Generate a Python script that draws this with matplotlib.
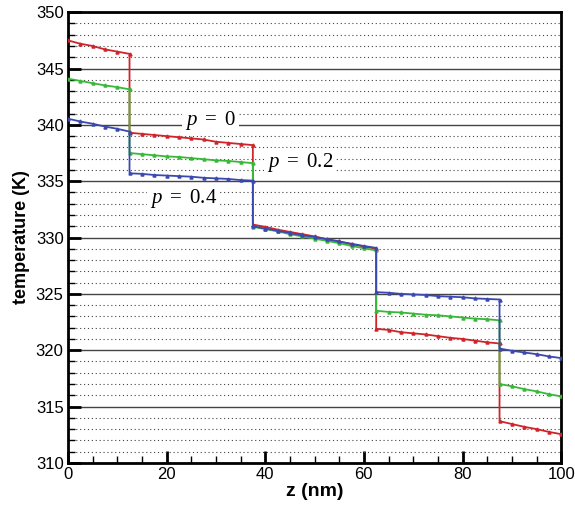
import matplotlib
matplotlib.use("Agg")
import matplotlib.pyplot as plt
from matplotlib.ticker import MultipleLocator

plt.rcParams['font.family'] = 'Liberation Sans'
plt.rcParams['mathtext.fontset'] = 'custom'
plt.rcParams['mathtext.rm'] = 'Liberation Serif'
plt.rcParams['mathtext.it'] = 'Liberation Serif:italic'

# z positions (nm) for each layer; boundaries repeated to get the jumps
z_seg1 = [0, 2.5, 5, 7.5, 10, 12.5]
z_seg2 = [12.5, 15, 17.5, 20, 22.5, 25, 27.5, 30, 32.5, 35, 37.5]
z_seg3 = [37.5, 40, 42.5, 45, 47.5, 50, 52.5, 55, 57.5, 60, 62.5]
z_seg4 = [62.5, 65, 67.5, 70, 72.5, 75, 77.5, 80, 82.5, 85, 87.5]
z_seg5 = [87.5, 90, 92.5, 95, 97.5, 100]
z = z_seg1 + z_seg2 + z_seg3 + z_seg4 + z_seg5

# temperature (K), p = 0
t_p0 = [347.5, 347.2, 347.0, 346.7, 346.5, 346.3,
        339.3, 339.2, 339.1, 339.0, 338.9, 338.8, 338.7, 338.5, 338.4, 338.3, 338.2,
        331.15, 330.95, 330.7, 330.5, 330.3, 330.1, 329.85, 329.65, 329.4, 329.2, 329.0,
        321.9, 321.8, 321.6, 321.5, 321.4, 321.25, 321.1, 321.0, 320.85, 320.7, 320.6,
        313.7, 313.45, 313.2, 313.0, 312.75, 312.55]

# temperature (K), p = 0.2
t_p02 = [344.1, 343.9, 343.7, 343.5, 343.35, 343.15,
         337.5, 337.4, 337.3, 337.2, 337.15, 337.05, 336.95, 336.85, 336.8, 336.7, 336.6,
         330.95, 330.75, 330.55, 330.3, 330.1, 329.9, 329.7, 329.5, 329.25, 329.05, 328.85,
         323.5, 323.4, 323.35, 323.25, 323.15, 323.1, 323.0, 322.9, 322.8, 322.75, 322.65,
         317.0, 316.8, 316.55, 316.35, 316.1, 315.9]

# temperature (K), p = 0.4
t_p04 = [340.55, 340.3, 340.1, 339.85, 339.65, 339.4,
         335.7, 335.65, 335.55, 335.5, 335.45, 335.4, 335.3, 335.25, 335.2, 335.1, 335.05,
         331.0, 330.8, 330.6, 330.4, 330.2, 330.05, 329.85, 329.65, 329.45, 329.25, 329.08,
         325.15, 325.1, 325.0, 324.95, 324.9, 324.8, 324.75, 324.7, 324.6, 324.55, 324.5,
         320.15, 319.95, 319.8, 319.65, 319.45, 319.3]

fig = plt.figure(figsize=(5.75, 5.07), dpi=100)
ax = fig.add_axes([0.118, 0.087, 0.858, 0.889])

ax.plot(z, t_p0, color='#d0232a', lw=1.3, marker='^', ms=2.2, zorder=3)
ax.plot(z, t_p02, color='#38b838', lw=1.3, marker='^', ms=2.2, zorder=4)
ax.plot(z, t_p04, color='#3a48b0', lw=1.3, marker='^', ms=2.2, zorder=5)

ax.set_xlim(0, 100)
ax.set_ylim(310, 350)
ax.xaxis.set_major_locator(MultipleLocator(20))
ax.xaxis.set_minor_locator(MultipleLocator(5))
ax.yaxis.set_major_locator(MultipleLocator(5))
ax.yaxis.set_minor_locator(MultipleLocator(1))

ax.tick_params(which='both', direction='in', top=False, right=False)
ax.tick_params(which='major', length=9, width=2, labelsize=12, pad=3)
ax.tick_params(which='minor', length=5, width=1)

ax.grid(True, which='major', axis='y', color='#444444', lw=1.0, zorder=1)
ax.grid(True, which='minor', axis='y', color='#444444', lw=0.8, ls=(0, (1, 2.5)), zorder=1)

for s in ax.spines.values():
    s.set_linewidth(2)

ax.set_xlabel('z (nm)', fontsize=14, fontweight='bold', labelpad=1)
ax.set_ylabel('temperature (K)', fontsize=13, fontweight='bold', labelpad=4)

box = dict(facecolor='white', edgecolor='none', pad=2)
ax.text(28.9, 340.4, r'$p\ =\ 0$', fontsize=15, ha='center', va='center', bbox=box, zorder=6)
ax.text(47.0, 336.7, r'$p\ =\ 0.2$', fontsize=15, ha='center', va='center', bbox=box, zorder=6)
ax.text(23.5, 333.5, r'$p\ =\ 0.4$', fontsize=15, ha='center', va='center', bbox=box, zorder=6)

fig.savefig('out.png', dpi=100)
